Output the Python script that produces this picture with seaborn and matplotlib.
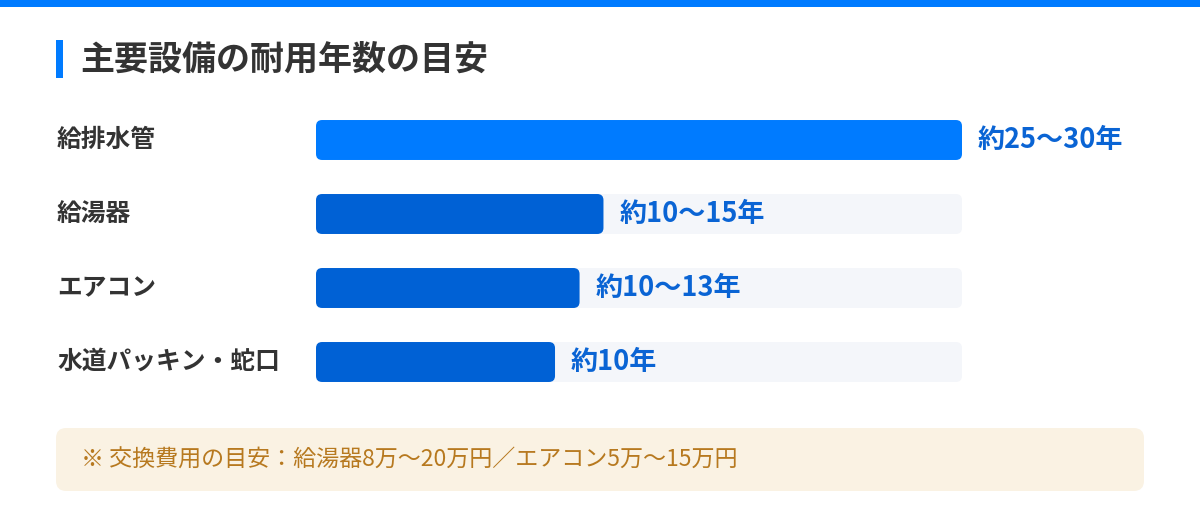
import matplotlib
matplotlib.use("Agg")
import matplotlib.pyplot as plt
import matplotlib.transforms as mtransforms
from matplotlib.patches import FancyBboxPatch, Rectangle
import seaborn as sns
import pandas as pd

# data
items = ["給排水管", "給湯器", "エアコン", "水道パッキン・蛇口"]
bar_pct = [100, 44.5, 40.8, 37.0]   # bar length as % of track
labels = ["約25〜30年", "約10〜15年", "約10〜13年", "約10年"]
title = "主要設備の耐用年数の目安"
note = "※ 交換費用の目安：給湯器8万〜20万円／エアコン5万〜15万円"

BLUE = "#007BFF"
DARK = "#0061D5"
TRACK = "#F4F6FA"
TEXT = "#333333"

sns.set_theme(style="white")
plt.rcParams["font.family"] = ["Noto Sans CJK JP", "DejaVu Sans"]

df = pd.DataFrame({"item": items, "pct": bar_pct, "track": [100] * len(items)})

W, H = 1200, 530
fig = plt.figure(figsize=(12, 5.3), dpi=100)
fig.patch.set_facecolor("white")

ax = fig.add_axes([316 / W, (H - 399) / H, 646 / W, 296 / H])
sns.barplot(data=df, x="track", y="item", color=TRACK, width=0.54, ax=ax,
            orient="h", saturation=1)
sns.barplot(data=df, x="pct", y="item", hue="item", palette=[BLUE, DARK, DARK, DARK],
            width=0.54, ax=ax, orient="h", legend=False, saturation=1)
ax.set_xlim(0, 100)
ax.set_ylim(3.5, -0.5)
ax.axis("off")

# round the bar corners
asp = (1 / 74) / (100 / 646)
for p in list(ax.patches):
    x, y = p.get_x(), p.get_y()
    w, h = p.get_width(), p.get_height()
    rb = FancyBboxPatch((x, y), w, h, boxstyle="round,pad=0,rounding_size=0.95",
                        mutation_aspect=asp, facecolor=p.get_facecolor(),
                        edgecolor="none", zorder=p.get_zorder())
    p.remove()
    ax.add_patch(rb)

# value labels
for i, (v, lab) in enumerate(zip(bar_pct, labels)):
    ax.annotate(lab, xy=(v, i), xytext=(11.5, 0), textcoords="offset points",
                ha="left", va="center", fontsize=19.5, fontweight="bold",
                color="#0A64D4", annotation_clip=False)

# category labels
tr = mtransforms.blended_transform_factory(fig.transFigure, ax.transData)
for i, it in enumerate(items):
    ax.text(57 / W, i, it, transform=tr, ha="left", va="center",
            fontsize=17.8, fontweight="bold", color=TEXT)

# top strip, title accent, title
fig.patches.append(Rectangle((0, 1 - 7 / H), 1, 7 / H, transform=fig.transFigure,
                             facecolor=BLUE, edgecolor="none"))
fig.patches.append(Rectangle((56 / W, 1 - 78 / H), 7 / W, 38 / H, transform=fig.transFigure,
                             facecolor=BLUE, edgecolor="none"))
fig.text(80 / W, 1 - 59 / H, title, ha="left", va="center", fontsize=24.5,
         fontweight="bold", color=TEXT)

# note box
fig.patches.append(FancyBboxPatch((56 / W, 1 - 491 / H), 1088 / W, 63 / H,
                                  boxstyle="round,pad=0,rounding_size=0.0085",
                                  mutation_aspect=W / H, transform=fig.transFigure,
                                  facecolor="#FAF2E3", edgecolor="none"))
fig.text(81 / W, 1 - 460 / H, note, ha="left", va="center", fontsize=16.6,
         color="#B7791F")

fig.savefig("out.png", dpi=100)
